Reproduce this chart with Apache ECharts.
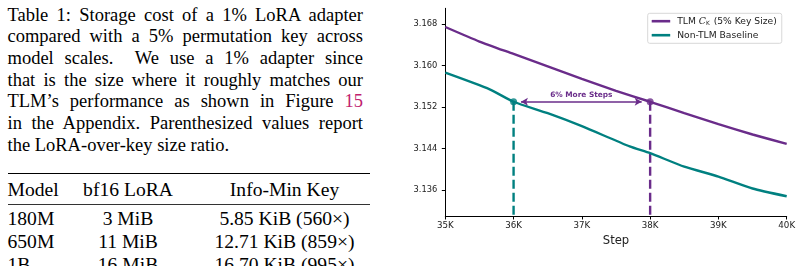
<!DOCTYPE html>
<html>
<head>
<meta charset="utf-8">
<script src="https://cdn.jsdelivr.net/npm/echarts@6/dist/echarts.min.js"></script>
<style>
	html,body{margin:0;padding:0;background:#fff;}
	#page{position:relative;width:801px;height:266px;overflow:hidden;background:#fff;}
	#caption{position:absolute;left:7.5px;top:4.5px;width:355.5px;font-family:"Liberation Serif","Times New Roman",serif;font-size:18.5px;line-height:21.7px;color:#000;}
	#caption div{text-align:justify;text-align-last:justify;white-space:nowrap;}
	#caption div.last{text-align-last:left;}
	#caption .ref{color:#c0206e;}
	.rule{position:absolute;left:7.5px;width:362.5px;background:#000;}
	.row{position:absolute;left:0;width:400px;height:23px;font-family:"Liberation Serif","Times New Roman",serif;font-size:19.6px;line-height:23px;color:#000;}
	.row span{position:absolute;top:0;white-space:nowrap;}
	.c1{left:7.5px;}
	.c2{left:78px;width:100px;text-align:center;}
	.c3{left:204.5px;width:160px;text-align:center;}
	#chart{position:absolute;left:400px;top:0;width:401px;height:266px;}
</style>
</head>
<body>
<div id="page">
	<div id="caption">
		<div>Table 1: Storage cost of a 1% LoRA adapter</div>
		<div>compared with a 5% permutation key across</div>
		<div>model scales.&nbsp; We use a 1% adapter since</div>
		<div>that is the size where it roughly matches our</div>
		<div>TLM’s performance as shown in Figure <span class="ref">15</span></div>
		<div>in the Appendix. Parenthesized values report</div>
		<div class="last">the LoRA-over-key size ratio.</div>
	</div>
	<div class="rule" style="top:172.6px;height:1.4px;"></div>
	<div class="row" style="top:177.5px;"><span class="c1">Model</span><span class="c2">bf16 LoRA</span><span class="c3">Info-Min Key</span></div>
	<div class="rule" style="top:203.8px;height:1px;background:#333;"></div>
	<div class="row" style="top:206.5px;"><span class="c1">180M</span><span class="c2">3 MiB</span><span class="c3">5.85 KiB (560×)</span></div>
	<div class="row" style="top:229.5px;"><span class="c1">650M</span><span class="c2">11 MiB</span><span class="c3">12.71 KiB (859×)</span></div>
	<div class="row" style="top:252.5px;"><span class="c1">1B</span><span class="c2">16 MiB</span><span class="c3">16.70 KiB (995×)</span></div>
	<div id="chart"></div>
</div>
<script>
	//数据
	var tlmName = 'TLM';
	var baseName = 'Non-TLM Baseline';
	var tlmSteps = [35000, 35500, 36000, 36500, 37000, 37500, 38000, 38500, 39000, 39500, 40000];
	var tlmLoss = [3.1674, 3.1646, 3.1622, 3.1598, 3.1574, 3.1551, 3.1530, 3.1508, 3.1487, 3.1467, 3.1449];
	var baseSteps = [35000, 35650, 36000, 36500, 37000, 37700, 38000, 38500, 39000, 39500, 40000];
	var baseLoss = [3.1586, 3.1554, 3.1530, 3.1508, 3.1483, 3.1444, 3.1431, 3.1405, 3.1386, 3.1363, 3.1348];
	var matchLoss = 3.1530;
	var matchSteps = [36000, 38000];
	var arrowSteps = [36108, 37876];
	var yTicks = [3.136, 3.144, 3.152, 3.160, 3.168];
	var yMin = 3.131, yMax = 3.171;

	var purple = '#6a2c8a';
	var teal = '#008080';
	var ink = '#222';

	var pairs = function(xs, ys){
		var out = [];
		for(var i = 0; i < xs.length; i++){
			out.push([xs[i], ys[i]]);
		}
		return out;
	};

	var myChart = echarts.init(document.getElementById('chart'));

	var option = {
		animation: false,
		grid: {left: 45.3, right: 14.3, top: 8.3, bottom: 50},
		legend: {
			orient: 'vertical',
			left: 247.7,
			top: 13.3,
			data: [tlmName, baseName],
			icon: 'rect',
			itemWidth: 18.5,
			itemHeight: 2.6,
			itemGap: 3,
			padding: [2.4, 5, 2.6, 4],
			backgroundColor: '#fff',
			borderColor: '#d8d8d8',
			borderWidth: 1,
			borderRadius: 2,
			textStyle: {
				fontFamily: 'DejaVu Sans',
				fontSize: 9.2,
				lineHeight: 11,
				color: ink,
				padding: [0, 0, 0, 2],
				rich: {
					c: {fontFamily: 'DejaVu Serif', fontStyle: 'italic', fontSize: 9.4, color: ink},
					k: {fontFamily: 'DejaVu Sans', fontSize: 5.8, color: ink, padding: [4, 1, 0, 0]}
				}
			},
			formatter: function(name){
				if(name == tlmName){
					return 'TLM {c|C}{k|K} (5% Key Size)';
				}
				return name;
			}
		},
		xAxis: {
			type: 'value',
			min: 35000,
			max: 40000,
			interval: 1000,
			name: 'Step',
			nameLocation: 'middle',
			nameGap: 18,
			nameTextStyle: {fontFamily: 'DejaVu Sans', fontSize: 11.6, color: ink},
			axisLine: {lineStyle: {color: '#000', width: 1}},
			axisTick: {length: 3.5, lineStyle: {color: '#000', width: 1}},
			axisLabel: {
				fontFamily: 'DejaVu Sans', fontSize: 8.7, color: ink, margin: 5,
				formatter: function(v){ return (v / 1000) + 'K'; }
			},
			splitLine: {show: false}
		},
		yAxis: {
			type: 'value',
			min: yMin,
			max: yMax,
			axisLine: {show: true, lineStyle: {color: '#000', width: 1}},
			axisTick: {show: true, length: 3.5, customValues: yTicks, lineStyle: {color: '#000', width: 1}},
			axisLabel: {
				fontFamily: 'DejaVu Sans', fontSize: 8.3, color: ink, margin: 8,
				customValues: yTicks,
				formatter: function(v){ return v.toFixed(3); }
			},
			splitLine: {show: false}
		},
		series: [
			{
				name: tlmName,
				type: 'line',
				data: pairs(tlmSteps, tlmLoss),
				showSymbol: false,
				smooth: 0.2,
				lineStyle: {color: purple, width: 2.4},
				itemStyle: {color: purple},
				z: 3
			},
			{
				name: baseName,
				type: 'line',
				data: pairs(baseSteps, baseLoss),
				showSymbol: false,
				smooth: 0.2,
				lineStyle: {color: teal, width: 2.4},
				itemStyle: {color: teal},
				z: 3
			},
			//虚线
			{
				name: 'drop-base',
				type: 'line',
				data: [[matchSteps[0], matchLoss], [matchSteps[0], yMin]],
				showSymbol: false,
				lineStyle: {color: teal, width: 2.4, type: [9, 4]},
				z: 2
			},
			{
				name: 'drop-tlm',
				type: 'line',
				data: [[matchSteps[1], matchLoss], [matchSteps[1], yMin]],
				showSymbol: false,
				lineStyle: {color: purple, width: 2.4, type: [9, 4]},
				z: 2
			},
			//标记点 + 箭头
			{
				name: 'match',
				type: 'scatter',
				data: [[matchSteps[0], matchLoss], [matchSteps[1], matchLoss]],
				symbolSize: 7,
				itemStyle: {
					color: function(p){ return p.dataIndex == 0 ? teal : purple; }
				},
				z: 5,
				markLine: {
					silent: true,
					symbol: ['arrow', 'arrow'],
					symbolSize: [6, 7],
					lineStyle: {color: purple, width: 1.6, type: 'solid'},
					label: {
						show: true,
						position: 'insideMiddleTop',
						distance: 3,
						formatter: '6% More Steps',
						fontFamily: 'DejaVu Sans',
						fontWeight: 'bold',
						fontSize: 7.4,
						color: purple
					},
					data: [[{coord: [arrowSteps[0], matchLoss]}, {coord: [arrowSteps[1], matchLoss]}]]
				}
			}
		]
	};
	myChart.setOption(option);
</script>
</body>
</html>
